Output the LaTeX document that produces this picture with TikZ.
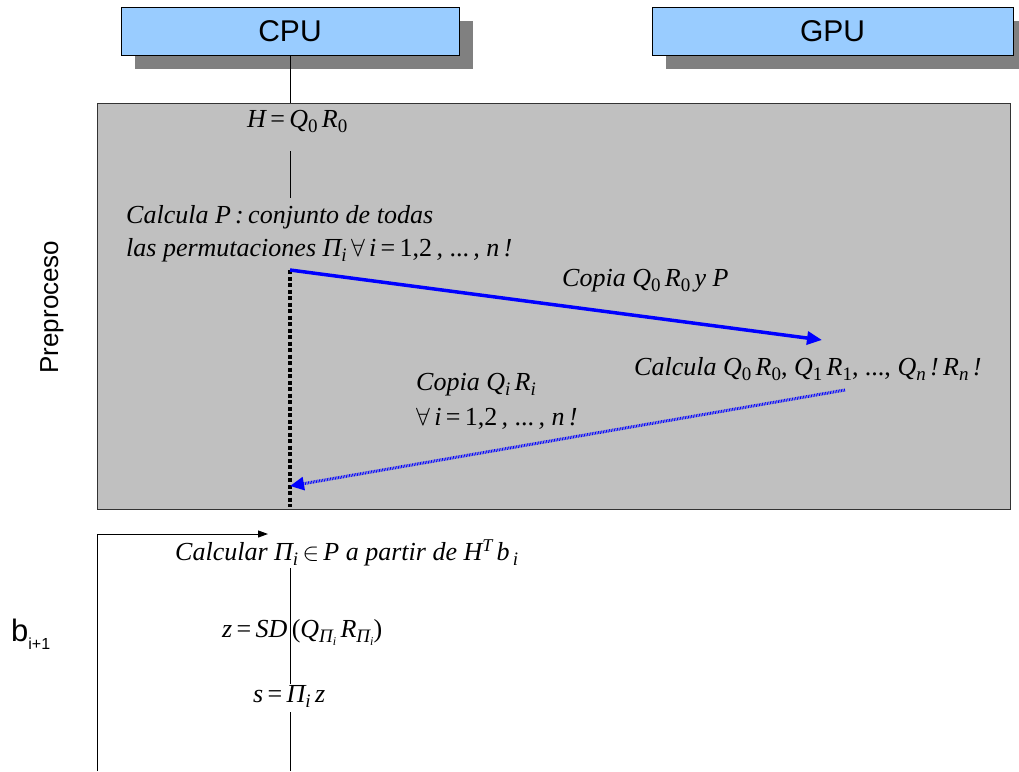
\documentclass[tikz,border=0pt]{standalone}
\usepackage{fontspec}
\setmainfont{Liberation Serif}
\newfontfamily\labelfont{Liberation Sans}
\usetikzlibrary{arrows.meta,shadows}

\definecolor{boxblue}{HTML}{99CCFF}
\definecolor{shadowgrey}{HTML}{808080}
\definecolor{regiongrey}{HTML}{C0C0C0}
\definecolor{edgegrey}{HTML}{333333}
\definecolor{linkblue}{HTML}{0000FF}

% small helpers for the formulas
\newcommand\up[1]{\textup{#1}}
\newcommand\sbs[1]{\raisebox{-5pt}{\fontsize{19}{19}\selectfont #1}}
\newcommand\ssbs[1]{\raisebox{-3pt}{\fontsize{12}{12}\selectfont #1}}
\newcommand\sps[1]{\raisebox{9pt}{\fontsize{18}{18}\selectfont #1}}
\newcommand\eq{\,\up{=}\,}
\newcommand\all{{\fontsize{29}{29}\selectfont$\forall$}}
\newcommand\elem{{\fontsize{28}{28}\selectfont$\in$}}

\begin{document}
\begin{tikzpicture}[x=1pt,y=-1pt,
  unit/.style={draw=black, line width=0.9pt, fill=boxblue,
    minimum height=48pt, inner sep=0pt,
    font=\labelfont\fontsize{30}{30}\selectfont,
    drop shadow={shadow xshift=14pt, shadow yshift=-14pt, fill=shadowgrey, opacity=1}},
  formula/.style={inner sep=0pt, anchor=base west, font=\fontsize{26}{32}\selectfont\itshape},
  lane/.style={draw=black, line width=1pt},
  sidelabel/.style={inner sep=0pt, font=\labelfont\fontsize{26}{28}\selectfont},
  transfer/.style={draw=linkblue, line width=3.5pt,
    -{Triangle[length=15pt,width=13pt]}},
  giveback/.style={draw=linkblue, line width=3pt, dash pattern=on 0.8pt off 0.8pt,
    -{Triangle[length=14pt,width=13pt]}},
  wait/.style={draw=black, line width=4.5pt, dash pattern=on 4pt off 2.5pt},
  loop/.style={draw=black, line width=1pt, -{Triangle[length=10pt,width=7pt]}}
]
\useasboundingbox (0,0) rectangle (1019,771);

% processing units
\node[unit, minimum width=338pt] (cpu) at (290,31) {CPU};
\node[unit, minimum width=361pt] (gpu) at (832.5,31) {GPU};

% preprocessing stage
\node[draw=edgegrey, line width=0.9pt, fill=regiongrey, anchor=north west,
  minimum width=913pt, minimum height=406pt, inner sep=0pt] (pre) at (97,103) {};
\node[sidelabel, rotate=90] (prelabel) at (52,307) {Preproceso};

\draw[lane] (cpu.south) -- (cpu.south |- pre.north);

\node[formula] (h) at (247,127) {H\eq Q\sbs{\up{0}}\,R\sbs{\up{0}}};
\coordinate (h1) at (290,151);
\coordinate (h2) at (290,198);
\draw[lane] (h1) -- (h2);

\node[formula] (calcA) at (126,223) {Calcula P\,:\,conjunto de todas};
\node[formula] (calcB) at (126,256) {las permutaciones Π\sbs{i}\,\all\,i\eq\up{1,2}\,, \up{...}\,, n\,!};

\coordinate (pstart) at (290,270);
\coordinate (pend) at (290,507);
\draw[wait] (pstart) -- (pend);

\node[formula] (copy1) at (562,286) {Copia Q\sbs{\up{0}}\,R\sbs{\up{0}}\,y P};
\coordinate (gpuin) at (822,340);
\draw[transfer] (pstart) -- (gpuin);

\node[formula] (qr) at (634,375) {Calcula Q\sbs{\up{0}}\,R\sbs{\up{0}}\up{,} Q\sbs{\up{1}}\,R\sbs{\up{1}}\up{,} \up{...}\up{,} Q\sbs{n}\,!\,R\sbs{n}\,!};

\node[formula] (copy2) at (416,390) {Copia Q\sbs{i}\,R\sbs{i}};
\node[formula] (copy3) at (416,425) {\all\,i\eq\up{1,2}\,, \up{...}\,, n\,!};
\coordinate (gpuout) at (845,390);
\coordinate (cpuin) at (290,486);
\draw[giveback] (gpuout) -- (cpuin);

% per-vector loop
\coordinate (loopfoot) at (97,771);
\coordinate (looptop) at (268,534);
\draw[loop] (loopfoot) |- (looptop);

\node[inner sep=0pt, anchor=base west, font=\labelfont\fontsize{31}{32}\selectfont] (b) at (11,641)
  {b\raisebox{-8pt}{\fontsize{16}{16}\selectfont i+1}};

\node[formula] (perm) at (175,560) {Calcular Π\sbs{i}\,\elem\,P a partir de H\sps{T}\,b\sbs{\,i}};
\coordinate (l1) at (290,568);
\coordinate (l2) at (290,684);
\draw[lane] (l1) -- (l2);

\node[formula] (sd) at (222,637) {z\eq SD\,\up{(}Q\sbs{Π\ssbs{i}}\,R\sbs{Π\ssbs{i}}\up{)}};
\node[formula] (s) at (253,702) {s\eq Π\sbs{i}\,z};
\coordinate (l3) at (290,712);
\coordinate (l4) at (290,771);
\draw[lane] (l3) -- (l4);
\end{tikzpicture}
\end{document}
